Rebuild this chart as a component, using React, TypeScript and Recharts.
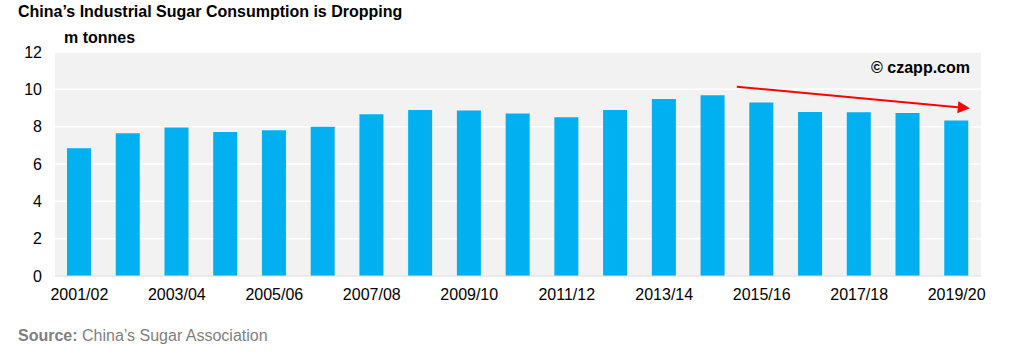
import React from "react";
import { BarChart, Bar, XAxis, YAxis, CartesianGrid, ReferenceLine } from "recharts";

const seasons = [
  "2001/02", "2002/03", "2003/04", "2004/05", "2005/06", "2006/07", "2007/08",
  "2008/09", "2009/10", "2010/11", "2011/12", "2012/13", "2013/14", "2014/15",
  "2015/16", "2016/17", "2017/18", "2018/19", "2019/20",
];
const consumption = [
  6.84, 7.65, 7.95, 7.72, 7.81, 8.0, 8.66, 8.89, 8.86, 8.7, 8.5, 8.89, 9.48,
  9.68, 9.29, 8.79, 8.77, 8.73, 8.33,
];
const yTicks = [0, 2, 4, 6, 8, 10, 12];
const xTicks = [0, 2, 4, 6, 8, 10, 12, 14, 16, 18];
// trend arrow, in (season index, m tonnes)
const arrowFrom = { x: 13.49, y: 10.14 };
const arrowTo = { x: 18.27, y: 8.98 };

const data = seasons.map((s, i) => ({ idx: i, season: s, v: consumption[i] }));

const FONT = '"Liberation Sans", Arial, sans-serif';

function Arrow(props: any) {
  const { x1, y1, x2, y2 } = props;
  const dx = x2 - x1;
  const dy = y2 - y1;
  const len = Math.sqrt(dx * dx + dy * dy);
  const ux = dx / len;
  const uy = dy / len;
  const head = 12;
  const half = 6;
  const bx = x2 - ux * head;
  const by = y2 - uy * head;
  const pts = [
    `${x2},${y2}`,
    `${bx - uy * half},${by + ux * half}`,
    `${bx + uy * half},${by - ux * half}`,
  ].join(" ");
  return (
    <g>
      <line x1={x1} y1={y1} x2={bx} y2={by} stroke="#ff0000" strokeWidth={2} />
      <polygon points={pts} fill="#ff0000" />
    </g>
  );
}

export default function App() {
  return (
    <div
      style={{
        position: "absolute",
        left: 0,
        top: 0,
        width: 1035,
        height: 363,
        background: "#fff",
        fontFamily: FONT,
      }}
    >
      <div style={{ position: "absolute", left: 18, top: 3, fontSize: 16, fontWeight: 700, color: "#000" }}>
        China’s Industrial Sugar Consumption is Dropping
      </div>
      <div style={{ position: "absolute", left: 64, top: 29, fontSize: 16, fontWeight: 700, color: "#000" }}>
        m tonnes
      </div>
      <div style={{ position: "absolute", left: 18, top: 327, fontSize: 16, color: "#7f7f7f" }}>
        <b>Source:</b> China’s Sugar Association
      </div>
      <BarChart
        width={1035}
        height={363}
        data={data}
        margin={{ top: 52, right: 54, bottom: 57, left: 0 }}
        style={{ fontFamily: FONT }}
      >
        <CartesianGrid vertical={false} fill="#f2f2f2" stroke="#ffffff" strokeWidth={1.5} />
        <XAxis
          dataKey="idx"
          type="number"
          domain={[-0.5, 18.5]}
          ticks={xTicks}
          tickFormatter={(i: number) => seasons[i]}
          tickLine={false}
          axisLine={{ stroke: "#d9d9d9" }}
          tickSize={0}
          tickMargin={13}
          height={30}
          tick={{ fill: "#000", fontSize: 16 }}
        />
        <YAxis
          domain={[0, 12]}
          ticks={yTicks}
          width={55}
          tickLine={false}
          axisLine={false}
          tickSize={0}
          tickMargin={13}
          tick={{ fill: "#000", fontSize: 16 }}
        />
        <Bar dataKey="v" fill="#00b0f0" barSize={24} isAnimationActive={false} />
        <ReferenceLine segment={[arrowFrom, arrowTo]} shape={Arrow} />
      </BarChart>
      <div
        style={{
          position: "absolute",
          right: 65,
          top: 59,
          fontSize: 16,
          fontWeight: 700,
          color: "#000",
        }}
      >
        © czapp.com
      </div>
    </div>
  );
}
